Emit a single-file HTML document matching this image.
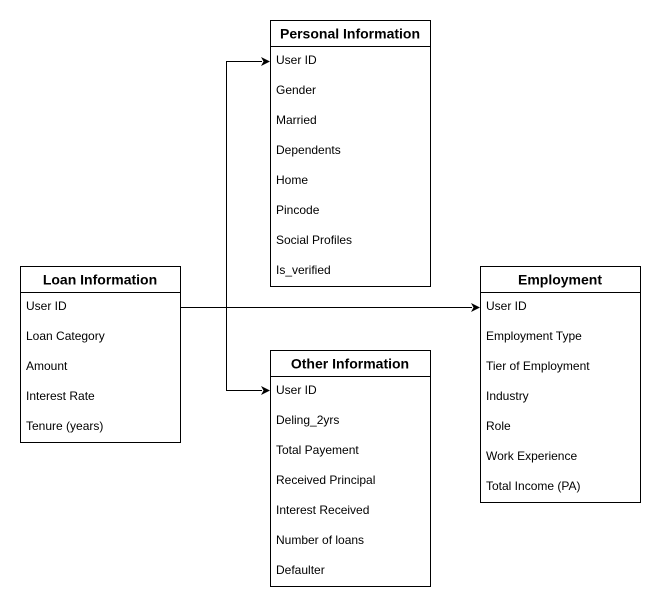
<!DOCTYPE html>
<html><head><style>
html,body{margin:0;padding:0;background:#fff;width:661px;height:610px;overflow:hidden}
svg{display:block}
text{font-family:"Liberation Sans",Arial,sans-serif;fill:#000}
.h{font-size:14px;font-weight:bold;text-anchor:middle}
.r{font-size:12px;fill:#333}
</style></head><body>
<svg width="661" height="610" viewBox="0 0 661 610">
<g fill="#fff" stroke="#000" stroke-width="1">
<rect x="270.5" y="20.5" width="160" height="266"/><line x1="270" y1="46.5" x2="431" y2="46.5"/>
<rect x="20.5" y="266.5" width="160" height="176"/><line x1="20" y1="292.5" x2="181" y2="292.5"/>
<rect x="480.5" y="266.5" width="160" height="236"/><line x1="480" y1="292.5" x2="641" y2="292.5"/>
<rect x="270.5" y="350.5" width="160" height="236"/><line x1="270" y1="376.5" x2="431" y2="376.5"/>
</g>
<g fill="none" stroke="#000" stroke-width="1">
<path d="M181,307.5 H472"/>
<path d="M226.5,307.5 V61.5 H262"/>
<path d="M226.5,307.5 V390.5 H262"/>
</g>
<g fill="#000">
<path d="M480,307.5 L471,303 L473.5,307.5 L471,312 Z"/>
<path d="M270,61.5 L261,57 L263.5,61.5 L261,66 Z"/>
<path d="M270,390.5 L261,386 L263.5,390.5 L261,395 Z"/>
</g>
<text class="h" x="350" y="38.5">Personal Information</text>
<g class="r">
<text x="276" y="64">User ID</text><text x="276" y="94">Gender</text><text x="276" y="124">Married</text><text x="276" y="154">Dependents</text><text x="276" y="184">Home</text><text x="276" y="214">Pincode</text><text x="276" y="244">Social Profiles</text><text x="276" y="274">Is_verified</text>
</g>
<text class="h" x="100" y="284.5">Loan Information</text>
<g class="r">
<text x="26" y="310">User ID</text><text x="26" y="340">Loan Category</text><text x="26" y="370">Amount</text><text x="26" y="400">Interest Rate</text><text x="26" y="430">Tenure (years)</text>
</g>
<text class="h" x="560" y="284.5">Employment</text>
<g class="r">
<text x="486" y="310">User ID</text><text x="486" y="340">Employment Type</text><text x="486" y="370">Tier of Employment</text><text x="486" y="400">Industry</text><text x="486" y="430">Role</text><text x="486" y="460">Work Experience</text><text x="486" y="490">Total Income (PA)</text>
</g>
<text class="h" x="350" y="368.5">Other Information</text>
<g class="r">
<text x="276" y="394">User ID</text><text x="276" y="424">Deling_2yrs</text><text x="276" y="454">Total Payement</text><text x="276" y="484">Received Principal</text><text x="276" y="514">Interest Received</text><text x="276" y="544">Number of loans</text><text x="276" y="574">Defaulter</text>
</g>
</svg>
</body></html>
